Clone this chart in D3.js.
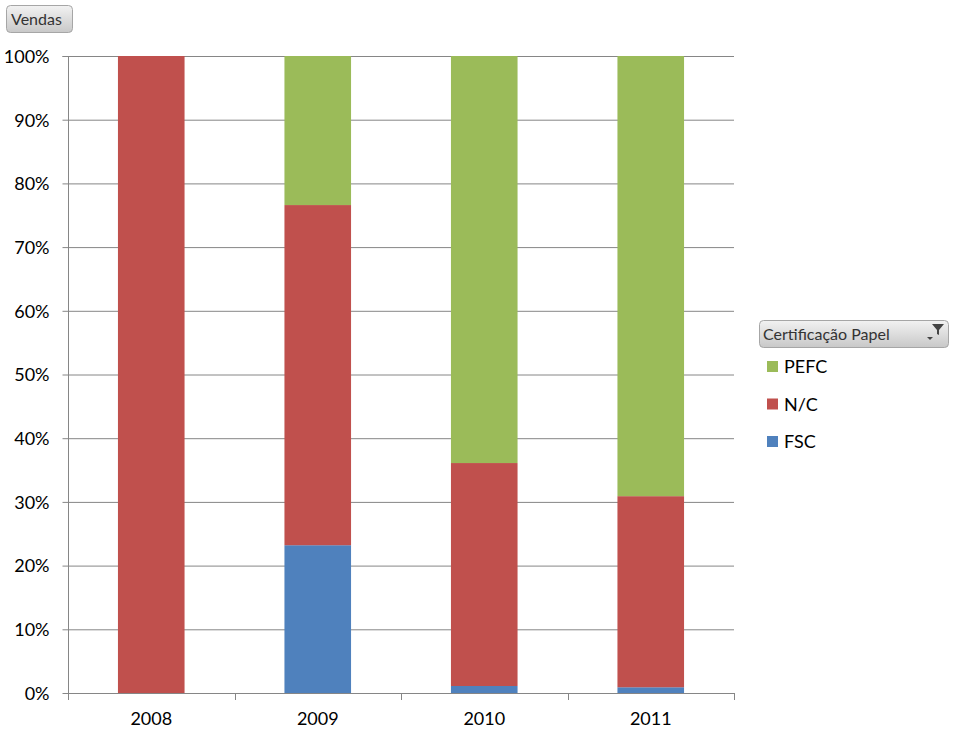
<!DOCTYPE html>
<html><head><meta charset="utf-8">
<script src="https://cdn.jsdelivr.net/npm/d3@7"></script>
<style>body{margin:0;background:#fff;} svg{display:block;font-family:Lato,"Open Sans",sans-serif;}</style>
</head><body>
<svg id="c" width="960" height="739"></svg>
<script>
const categories = ["2008","2009","2010","2011"];
const seriesNames = ["FSC","N/C","PEFC"];
const fsc  = [0, 23.2, 1.1, 0.9];
const nc   = [100, 53.4, 35.0, 30.0];
const pefc = [0, 23.4, 63.9, 69.1];
const yTicks = [0,10,20,30,40,50,60,70,80,90,100];
const colors = {"FSC":"#4F81BD","N/C":"#C0504D","PEFC":"#9BBB59"};

const svg = d3.select("#c");
const defs = svg.append("defs");
const g1 = defs.append("linearGradient").attr("id","btn").attr("x1",0).attr("y1",0).attr("x2",0).attr("y2",1);
g1.append("stop").attr("offset","0%").attr("stop-color","#f2f2f2");
g1.append("stop").attr("offset","100%").attr("stop-color","#c8c8c8");

const L=68,R=734,T=56,B=693;
const x = d3.scaleBand().domain(categories).range([L,R]).paddingInner(0.6).paddingOuter(0.3);
const xc = d3.scaleBand().domain(categories).range([L,R]);
const y = d3.scaleLinear().domain([0,100]).range([B,T]);

// gridlines
svg.append("g").selectAll("line").data(yTicks).join("line")
  .attr("x1",L).attr("x2",R).attr("y1",d=>y(d)+0.5).attr("y2",d=>y(d)+0.5)
  .attr("stroke","#868686").attr("stroke-width",1);

// stacked data
const rows = categories.map((c,i)=>({cat:c,"FSC":fsc[i],"N/C":nc[i],"PEFC":pefc[i]}));
const stack = d3.stack().keys(seriesNames)(rows);
svg.append("g").selectAll("g").data(stack).join("g").attr("fill",d=>colors[d.key])
  .selectAll("rect").data(d=>d).join("rect")
  .attr("x",d=>x(d.data.cat)).attr("width",x.bandwidth())
  .attr("y",d=>y(d[1])).attr("height",d=>y(d[0])-y(d[1]));

// y axis
const ya = d3.axisLeft(y).tickValues(yTicks).tickFormat(d=>d+"%").tickSize(6).tickPadding(13);
const yg = svg.append("g").attr("transform",`translate(${L+0.5},0)`).call(ya)
  .attr("font-family","Lato, 'Open Sans', sans-serif");
yg.select(".domain").attr("stroke","#868686").attr("d",`M-6,${T+0.5}H0V${B+0.5}`);
yg.selectAll(".tick line").attr("stroke","#868686");
yg.selectAll("text").attr("font-size","18px").attr("fill","#000").attr("dy","0.35em");

// x axis
const xa = d3.axisBottom(xc).tickSize(0).tickPadding(19);
const xg = svg.append("g").attr("transform",`translate(0,${B+0.5})`).call(xa)
  .attr("font-family","Lato, 'Open Sans', sans-serif");
xg.select(".domain").attr("stroke","#868686").attr("d",`M${L},0H${R}`);
xg.selectAll("text").attr("font-size","18px").attr("fill","#000");
svg.append("g").selectAll("line").data(d3.range(categories.length+1)).join("line")
  .attr("x1",i=>Math.round(L+i*xc.step())+0.5).attr("x2",i=>Math.round(L+i*xc.step())+0.5)
  .attr("y1",B).attr("y2",B+7).attr("stroke","#868686");

// Vendas button
svg.append("rect").attr("x",6.5).attr("y",5.5).attr("width",66).attr("height",27).attr("rx",4)
  .attr("fill","url(#btn)").attr("stroke","#a6a6a6");
svg.append("text").attr("x",11).attr("y",25).attr("font-size","16px").attr("fill","#333").text("Vendas");

// legend header
svg.append("rect").attr("x",759.5).attr("y",320.5).attr("width",189).attr("height",27).attr("rx",4)
  .attr("fill","url(#btn)").attr("stroke","#a6a6a6");
svg.append("text").attr("x",763).attr("y",340).attr("font-size","16px").attr("fill","#333").text("Certificação Papel");
// filter icon
svg.append("path").attr("d","M932,324 L944,324 L939,330 L939,335 L937,334 L937,330 Z").attr("fill","#444");
svg.append("path").attr("d","M927,337 L933,337 L930,340 Z").attr("fill","#444");

const legendItems = ["PEFC","N/C","FSC"];
const lg = svg.append("g").selectAll("g").data(legendItems).join("g")
  .attr("transform",(d,i)=>`translate(767,${361+i*37.5})`);
lg.append("rect").attr("width",11).attr("height",11).attr("fill",d=>colors[d]);
lg.append("text").attr("x",17).attr("y",12).attr("font-size","18px").attr("fill","#000").text(d=>d);
</script>
</body></html>
